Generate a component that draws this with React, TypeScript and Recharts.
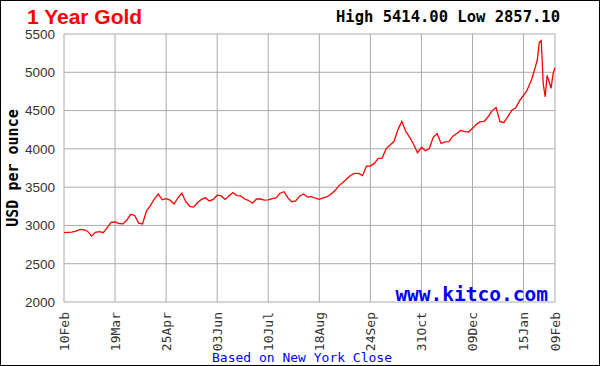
import { LineChart, Line, XAxis, YAxis, CartesianGrid } from 'recharts';

// trading-day index from 10Feb (every 2nd day, daily in the last weeks)
const tradingDay = [
  0, 2, 4, 6, 8, 10, 12, 14, 16, 18, 20, 22, 24, 26, 28, 30, 32, 34, 36, 38,
  40, 42, 44, 46, 48, 50, 52, 54, 56, 58, 60, 62, 64, 66, 68, 70, 72, 74, 76, 78,
  80, 82, 84, 86, 88, 90, 92, 94, 96, 98, 100, 102, 104, 106, 108, 110, 112, 114, 116, 118,
  120, 122, 124, 126, 128, 130, 132, 134, 136, 138, 140, 142, 144, 146, 148, 150, 152, 154, 156, 158,
  160, 162, 164, 166, 168, 170, 172, 174, 176, 178, 180, 182, 184, 186, 188, 190, 192, 194, 196, 198,
  200, 202, 204, 206, 208, 210, 212, 214, 216, 218, 220, 222, 224, 226, 228, 230, 232, 234,
  235, 236, 237, 238, 239, 240, 241, 242, 243, 244, 245, 246, 247, 248, 249, 250,
];

const closePrice = [
  2905, 2910, 2912, 2925, 2945, 2945, 2925, 2860, 2910, 2920, 2905, 2970, 3040, 3045, 3025, 3020, 3070, 3145, 3130, 3030,
  3020, 3190, 3260, 3345, 3410, 3335, 3350, 3330, 3280, 3360, 3420, 3310, 3250, 3240, 3300, 3340, 3360, 3320, 3340, 3395,
  3385, 3340, 3385, 3430, 3390, 3385, 3345, 3325, 3290, 3345, 3345, 3330, 3335, 3350, 3360, 3420, 3440, 3360, 3310, 3320,
  3385, 3410, 3370, 3375, 3355, 3340, 3360, 3375, 3410, 3455, 3520, 3560, 3610, 3655, 3680, 3680, 3650, 3775, 3775, 3810,
  3875, 3880, 4000, 4050, 4095, 4250, 4360, 4230, 4150, 4060, 3950, 4020, 3975, 4005, 4150, 4200, 4070, 4090, 4095, 4165,
  4200, 4240, 4225, 4220, 4270, 4320, 4355, 4360, 4420, 4500, 4540, 4355, 4345, 4420, 4505, 4535, 4630, 4700,
  4730, 4780, 4840, 4900, 4980, 5070, 5160, 5390, 5414, 4850, 4680, 4960, 4880, 4790, 4980, 5060,
];

const tickDays = [0, 26, 52, 78, 104, 130, 156, 182, 208, 234, 250];
const tickLabels = ['10Feb', '19Mar', '25Apr', '03Jun', '10Jul', '18Aug', '24Sep', '31Oct', '09Dec', '15Jan', '09Feb'];
const priceTicks = [2000, 2500, 3000, 3500, 4000, 4500, 5000, 5500];

const data = tradingDay.map((day, i) => ({ day, price: closePrice[i] }));
const labelByDay = new Map(tickDays.map((d, i) => [d, tickLabels[i]]));

const MONO = '"DejaVu Sans Mono", "Liberation Mono", monospace';
const SANS = '"Liberation Sans", Arial, sans-serif';

function DateTick({ x, y, payload }: any) {
  return (
    <text
      x={x}
      y={y}
      transform={`rotate(-90, ${x}, ${y})`}
      textAnchor="end"
      dy="0.35em"
      fontFamily={MONO}
      fontSize={13}
      fill="#333"
    >
      {labelByDay.get(payload.value)}
    </text>
  );
}

export default function App() {
  const priceTick = { fontFamily: SANS, fontSize: 13.5, fill: '#333' };

  return (
    <div style={{ position: 'fixed', left: 0, top: 0, width: 600, height: 366, background: '#fff' }}>
      <LineChart width={600} height={366} data={data} margin={{ top: 34, right: 0, left: 0, bottom: 0 }}>
        <CartesianGrid stroke="#aaaaaa" />
        <XAxis
          dataKey="day"
          type="number"
          domain={[0, 250]}
          ticks={tickDays}
          interval={0}
          height={64}
          tickSize={0}
          tickMargin={10}
          axisLine={false}
          tick={<DateTick />}
        />
        <YAxis
          type="number"
          domain={[2000, 5500]}
          ticks={priceTicks}
          interval={0}
          width={64}
          tickSize={0}
          tickMargin={9}
          axisLine={false}
          tick={priceTick}
        />
        <YAxis
          yAxisId="right"
          orientation="right"
          type="number"
          domain={[2000, 5500]}
          ticks={priceTicks}
          interval={0}
          width={45}
          tickSize={0}
          tickMargin={6}
          axisLine={false}
          tick={priceTick}
        />
        <Line
          type="linear"
          dataKey="price"
          stroke="#ff0000"
          strokeWidth={1.3}
          dot={false}
          isAnimationActive={false}
        />
      </LineChart>
      <svg width={600} height={366} style={{ position: 'absolute', left: 0, top: 0, pointerEvents: 'none' }}>
        <text x={27} y={24} fontFamily={SANS} fontWeight="bold" fontSize={21} fill="#ff0000">
          1 Year Gold
        </text>
        <text x={560} y={22} textAnchor="end" fontFamily={MONO} fontWeight="bold" fontSize={15.5} fill="#000">
          High 5414.00 Low 2857.10
        </text>
        <text
          x={13}
          y={168}
          transform="rotate(-90, 13, 168)"
          textAnchor="middle"
          dy="0.35em"
          fontFamily={MONO}
          fontWeight="bold"
          fontSize={15}
          fill="#000"
        >
          USD per ounce
        </text>
        <text x={548} y={301} textAnchor="end" fontFamily={MONO} fontWeight="bold" fontSize={19.5} fill="#0000ff">
          www.kitco.com
        </text>
        <text x={302} y={362} textAnchor="middle" fontFamily={MONO} fontSize={13} fill="#0000ff">
          Based on New York Close
        </text>
        <rect x={0.5} y={0.5} width={599} height={365} fill="none" stroke="#000" />
      </svg>
    </div>
  );
}
